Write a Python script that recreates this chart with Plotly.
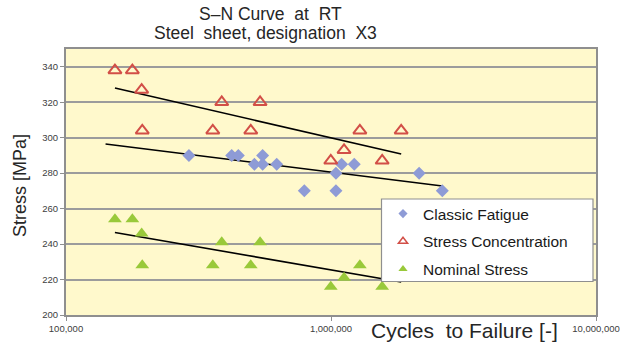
import numpy as np
import plotly.graph_objects as go

# ---------------- data ----------------
classic_cycles = [291e3, 422e3, 447e3, 552e3, 514e3, 552e3, 624e3, 1.097e6, 1.224e6,
                  1.044e6, 2.15e6, 793e3, 1.044e6, 2.63e6]
classic_stress = [290, 290, 290, 290, 285, 285, 285, 285, 285, 280, 280, 270, 270, 270]

conc_cycles = [153e3, 178e3, 193e3, 194e3, 358e3, 387e3, 498e3, 540e3, 998e3,
               1.12e6, 1.285e6, 1.56e6, 1.84e6]
conc_stress = [338, 338, 327, 304, 304, 320, 304, 320, 287, 293, 304, 287, 304]

nominal_cycles = [153e3, 178e3, 193e3, 194e3, 358e3, 387e3, 498e3, 540e3, 998e3,
                  1.12e6, 1.285e6, 1.56e6, 1.84e6]
nominal_stress = [254, 254, 246, 228, 228, 241, 228, 241, 216, 221, 228, 216, 228]

series_names = ["Classic Fatigue", "Stress Concentration", "Nominal Stress"]
trend_backward_cycles = [150000, 0, 0]   # backward forecast of each logarithmic trendline

x_tick_vals = [1e5, 1e6, 1e7]
x_tick_text = ["100,000", "1,000,000", "10,000,000"]
y_tick_vals = [200, 220, 240, 260, 280, 300, 320, 340]

title_line1 = "S\u2013N Curve\u00a0 at\u00a0 RT"
title_line2 = "Steel\u00a0 sheet, designation\u00a0 X3"
x_title = "Cycles\u00a0 to Failure [-]"
y_title = "Stress [MPa]"

# ---------------- styling ----------------
FONT = "Liberation Sans, Arial, sans-serif"
BLUE = "#8E9BD6"
RED = "#D24F47"
GREEN = "#99C93A"

W, H = 622, 343
L, R, T, B = 66, 26, 49, 28
PW, PH = W - L - R, H - T - B


def px_x(p):
    return (p - L) / PW


def px_y(p):
    return (H - B - p) / PH


def log_trend(xs, ys, back):
    lx = np.log10(np.asarray(xs, float))
    slope, icpt = np.polyfit(lx, np.asarray(ys, float), 1)
    x0 = min(xs) - back
    x1 = max(xs)
    xx = np.logspace(np.log10(x0), np.log10(x1), 50)
    return xx, slope * np.log10(xx) + icpt


fig = go.Figure()

datasets = [
    (classic_cycles, classic_stress, dict(symbol="diamond", size=10, color=BLUE, line=dict(width=0))),
    (conc_cycles, conc_stress, dict(symbol="triangle-up-open", size=11.5, color=RED, line=dict(width=2, color=RED))),
    (nominal_cycles, nominal_stress, dict(symbol="triangle-up", size=12, color=GREEN, line=dict(width=0))),
]

# trendlines
for (xs, ys, _), back in zip(datasets, trend_backward_cycles):
    tx, ty = log_trend(xs, ys, back)
    fig.add_trace(go.Scatter(x=tx, y=ty, mode="lines", line=dict(color="black", width=1.6),
                             showlegend=False, hoverinfo="skip"))

# markers
for (xs, ys, mk), name in zip(datasets, series_names):
    fig.add_trace(go.Scatter(x=xs, y=ys, mode="markers", marker=mk, name=name,
                             showlegend=False, cliponaxis=False))

# legend-only entries (smaller symbols, as in the reference legend)
legend_markers = [
    dict(symbol="diamond", size=7, color=BLUE, line=dict(width=0)),
    dict(symbol="triangle-up-open", size=8, color=RED, line=dict(width=1.5, color=RED)),
    dict(symbol="triangle-up", size=8, color=GREEN, line=dict(width=0)),
]
for i, (name, mk) in enumerate(zip(series_names, legend_markers)):
    fig.add_trace(go.Scatter(x=[None], y=[None], mode="markers", marker=mk, name=name,
                             legendgroup=f"g{i}", showlegend=True))

axis_common = dict(showline=True, linecolor="#8f8f8f", linewidth=2, mirror=True,
                   ticks="outside", ticklen=4, tickcolor="#8f8f8f", tickwidth=1,
                   tickfont=dict(family=FONT, size=9.5, color="#404040"), zeroline=False,
                   automargin=False)

fig.update_xaxes(type="log", range=[5, 7], tickvals=x_tick_vals, ticktext=x_tick_text,
                 showgrid=False, **axis_common)
fig.update_yaxes(range=[200, 350], tickvals=y_tick_vals, showgrid=True,
                 gridcolor="#9c9c9c", gridwidth=1.5, **axis_common)

annotations = [
    dict(text=title_line1, x=px_x(270), y=px_y(14), xref="paper", yref="paper",
         showarrow=False, xanchor="center", yanchor="middle",
         font=dict(family=FONT, size=17.5, color="#262626")),
    dict(text=title_line2, x=px_x(265), y=px_y(33), xref="paper", yref="paper",
         showarrow=False, xanchor="center", yanchor="middle",
         font=dict(family=FONT, size=17.5, color="#262626")),
    dict(text=x_title, x=px_x(464), y=px_y(330), xref="paper", yref="paper",
         showarrow=False, xanchor="center", yanchor="middle",
         font=dict(family=FONT, size=21, color="#262626")),
    dict(text=y_title, x=px_x(20), y=px_y(186), xref="paper", yref="paper", textangle=-90,
         showarrow=False, xanchor="center", yanchor="middle",
         font=dict(family=FONT, size=18, color="#262626")),
]

shapes = [
    dict(type="rect", xref="paper", yref="paper", layer="above",
         x0=px_x(381.5), x1=px_x(593), y0=px_y(281.5), y1=px_y(199),
         fillcolor="white", line=dict(color="#8f8f8f", width=1.2)),
]

fig.update_layout(
    width=W, height=H,
    margin=dict(l=L, r=R, t=T, b=B, pad=0, autoexpand=False),
    paper_bgcolor="white",
    plot_bgcolor="#FFF9CC",
    font=dict(family=FONT, color="#262626"),
    annotations=annotations,
    shapes=shapes,
    showlegend=True,
    legend=dict(x=px_x(383), y=px_y(197), xanchor="left", yanchor="top",
                bgcolor="rgba(0,0,0,0)", borderwidth=0,
                font=dict(family=FONT, size=15.5, color="#1a1a1a"),
                traceorder="grouped", tracegroupgap=4.5, itemwidth=30),
)

fig.write_html("out.html")
